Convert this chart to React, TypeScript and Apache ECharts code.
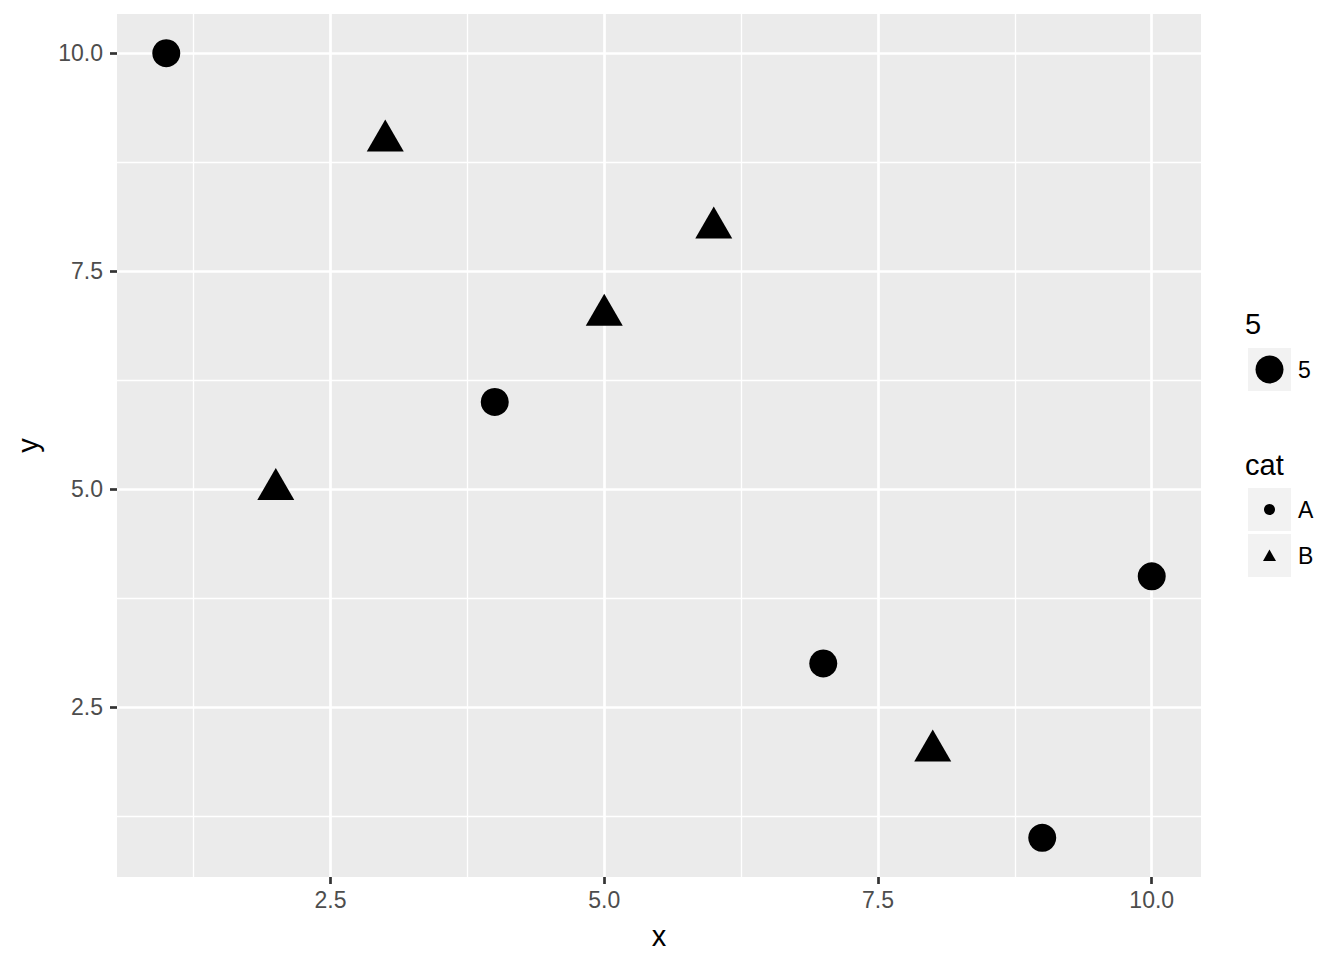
import React, { useEffect, useRef } from "react";
import * as echarts from "echarts";

// Data
const catA_x = [1, 4, 7, 9, 10];
const catA_y = [10, 6, 3, 1, 4];
const catB_x = [2, 3, 5, 6, 8];
const catB_y = [5, 9, 7, 8, 2];
const xTicks = [2.5, 5, 7.5, 10];
const yTicks = [2.5, 5, 7.5, 10];
const xMinor = [1.25, 3.75, 6.25, 8.75];
const yMinor = [1.25, 3.75, 6.25, 8.75];
const xRange = [0.55, 10.45];
const yRange = [0.55, 10.45];
const legendSizeTitle = "5";
const legendSizeLabel = "5";
const legendCatTitle = "cat";
const legendCats = ["A", "B"];

const FONT = "'Liberation Sans', Arial, Helvetica, sans-serif";

export default function App() {
  const ref = useRef<HTMLDivElement>(null);
  useEffect(() => {
    if (!ref.current) return;
    const chart = echarts.init(ref.current, null, { renderer: "svg" });
    const gL = 117, gT = 14, gW = 1084, gH = 863;

    const gridLines: any[] = [];
    xMinor.forEach((v) => gridLines.push({ xAxis: v, lineStyle: { color: "#ffffff", width: 1.35, type: "solid" } }));
    yMinor.forEach((v) => gridLines.push({ yAxis: v, lineStyle: { color: "#ffffff", width: 1.35, type: "solid" } }));
    xTicks.forEach((v) => gridLines.push({ xAxis: v, lineStyle: { color: "#ffffff", width: 2.7, type: "solid" } }));
    yTicks.forEach((v) => gridLines.push({ yAxis: v, lineStyle: { color: "#ffffff", width: 2.7, type: "solid" } }));

    const keyX = 1248, keyW = 43;
    const option: any = {
      animation: false,
      textStyle: { fontFamily: FONT },
      grid: {
        left: gL, top: gT, width: gW, height: gH,
        show: true, backgroundColor: "#ebebeb", borderWidth: 0,
      },
      xAxis: {
        type: "value",
        min: xRange[0], max: xRange[1],
        axisLine: { show: false },
        splitLine: { show: false },
        axisTick: { show: true, length: 7, customValues: xTicks, lineStyle: { color: "#333333", width: 2.7 } },
        axisLabel: {
          customValues: xTicks, color: "#4d4d4d", fontSize: 23, fontFamily: FONT, margin: 11,
          formatter: (v: number) => v.toFixed(1),
        },
      },
      yAxis: {
        type: "value",
        min: yRange[0], max: yRange[1],
        axisLine: { show: false },
        splitLine: { show: false },
        axisTick: { show: true, length: 7, customValues: yTicks, lineStyle: { color: "#333333", width: 2.7 } },
        axisLabel: {
          customValues: yTicks, color: "#4d4d4d", fontSize: 23, fontFamily: FONT, margin: 14,
          formatter: (v: number) => v.toFixed(1),
        },
      },
      series: [
        {
          type: "scatter",
          data: [],
          z: 1,
          silent: true,
          markLine: {
            z: 1,
            silent: true,
            symbol: ["none", "none"],
            label: { show: false },
            emphasis: { disabled: true },
            animation: false,
            data: gridLines,
          },
        },
        {
          name: "A",
          type: "scatter",
          z: 10,
          symbol: "circle",
          symbolSize: 28,
          itemStyle: { color: "#000000", opacity: 1 },
          emphasis: { disabled: true },
          data: catA_x.map((x, i) => [x, catA_y[i]]),
        },
        {
          name: "B",
          type: "scatter",
          z: 10,
          symbol: "triangle",
          symbolSize: [37, 32],
          symbolOffset: [0, -5],
          itemStyle: { color: "#000000", opacity: 1 },
          emphasis: { disabled: true },
          data: catB_x.map((x, i) => [x, catB_y[i]]),
        },
      ],
      graphic: [
        // axis titles
        { type: "text", x: gL + gW / 2, y: 936, style: { text: "x", font: `29px ${FONT}`, fill: "#000", align: "center", verticalAlign: "middle" } },
        { type: "text", x: 28, y: gT + gH / 2, rotation: Math.PI / 2, style: { text: "y", font: `29px ${FONT}`, fill: "#000", align: "center", verticalAlign: "middle" } },
        // size legend
        { type: "text", x: 1245, y: 324, style: { text: legendSizeTitle, font: `29px ${FONT}`, fill: "#000", align: "left", verticalAlign: "middle" } },
        { type: "rect", shape: { x: keyX, y: 348, width: keyW, height: keyW }, style: { fill: "#f2f2f2" } },
        { type: "circle", shape: { cx: keyX + keyW / 2, cy: 348 + keyW / 2, r: 14 }, style: { fill: "#000" } },
        { type: "text", x: 1298, y: 370, style: { text: legendSizeLabel, font: `23px ${FONT}`, fill: "#000", align: "left", verticalAlign: "middle" } },
        // cat legend
        { type: "text", x: 1245, y: 465, style: { text: legendCatTitle, font: `29px ${FONT}`, fill: "#000", align: "left", verticalAlign: "middle" } },
        { type: "rect", shape: { x: keyX, y: 488, width: keyW, height: keyW }, style: { fill: "#f2f2f2" } },
        { type: "circle", shape: { cx: keyX + keyW / 2, cy: 488 + keyW / 2, r: 5.5 }, style: { fill: "#000" } },
        { type: "text", x: 1298, y: 510, style: { text: legendCats[0], font: `23px ${FONT}`, fill: "#000", align: "left", verticalAlign: "middle" } },
        { type: "rect", shape: { x: keyX, y: 534, width: keyW, height: keyW }, style: { fill: "#f2f2f2" } },
        { type: "polygon", shape: { points: [[keyX + keyW / 2, 549.5], [keyX + keyW / 2 - 6.5, 561], [keyX + keyW / 2 + 6.5, 561]] }, style: { fill: "#000" } },
        { type: "text", x: 1298, y: 556, style: { text: legendCats[1], font: `23px ${FONT}`, fill: "#000", align: "left", verticalAlign: "middle" } },
      ],
    };
    chart.setOption(option);
    return () => chart.dispose();
  }, []);
  return (
    <div
      ref={ref}
      style={{ position: "fixed", left: 0, top: 0, width: 1344, height: 960, background: "#ffffff" }}
    />
  );
}
